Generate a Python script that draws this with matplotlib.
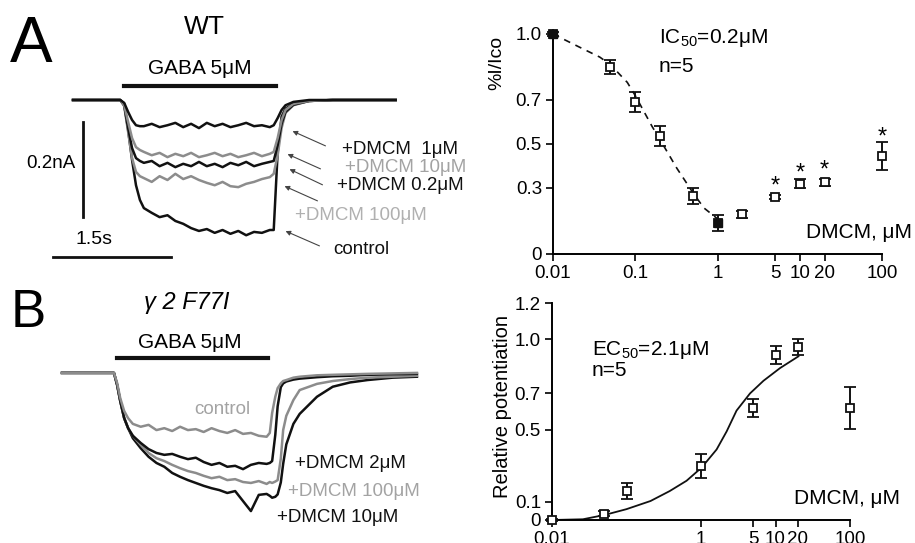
import numpy as np
import matplotlib
matplotlib.use("Agg")
import matplotlib.pyplot as plt

plt.rcParams["font.family"] = ["Liberation Sans", "DejaVu Sans"]
plt.rcParams["mathtext.fontset"] = "custom"
plt.rcParams["mathtext.rm"] = "Liberation Sans"
plt.rcParams["mathtext.it"] = "Liberation Sans:italic"

W, H = 915, 543
BLACK = "#111111"
GREY = "#8c8c8c"
GREY_TXT = "#a3a3a3"

# ---- panel A traces (time in s, current in pA) ----
tA = [0, 0.6, 0.65, 0.7, 0.75, 0.8, 0.85, 0.9, 1.0, 1.1, 1.2, 1.3, 1.4, 1.5, 1.6, 1.7,
      1.8, 1.9, 2.0, 2.1, 2.2, 2.3, 2.4, 2.5, 2.55, 2.6, 2.65, 2.7, 2.8, 3.0, 3.3, 4.1]
iA_control = [0, 0, -8, -63, -126, -179, -210, -227, -237, -246, -242, -254, -260, -269, -275, -271,
              -279, -273, -281, -275, -284, -277, -279, -273, -273, -110, -35, -18, -8, -2, 0, 0]
iA_1uM = [0, 0, -6, -25, -42, -53, -55, -55, -50, -57, -53, -48, -57, -50, -59, -48,
          -55, -50, -57, -53, -48, -55, -53, -57, -53, -38, -21, -11, -4, 0, 0, 0]
iA_10uM = [0, 0, -11, -46, -80, -99, -105, -109, -116, -111, -120, -113, -118, -111, -120, -116,
           -111, -118, -113, -120, -116, -111, -118, -113, -109, -80, -42, -21, -8, -2, 0, 0]
iA_02uM = [0, 0, -11, -59, -101, -122, -128, -132, -128, -139, -132, -141, -134, -139, -130, -139,
           -134, -141, -132, -137, -130, -139, -134, -130, -128, -95, -50, -25, -10, -2, 0, 0]
iA_100uM = [0, 0, -13, -67, -122, -151, -160, -164, -172, -160, -168, -155, -166, -160, -168, -174,
            -179, -172, -181, -183, -176, -172, -166, -162, -155, -116, -59, -27, -11, -2, 0, 0]
gabaA = [0.65, 2.58]
scale_t = 1.5    # s
scale_i = 200    # pA

# ---- panel B traces ----
tB = [0, 0.66, 0.70, 0.74, 0.79, 0.84, 0.90, 1.0, 1.1, 1.2, 1.3, 1.4, 1.5, 1.6, 1.7, 1.8, 1.9,
      2.0, 2.1, 2.2, 2.3, 2.4, 2.5, 2.6, 2.64, 2.67, 2.71, 2.74, 2.78, 2.81, 2.85, 2.94, 3.02,
      3.24, 3.44, 3.66, 3.88, 4.2, 4.51]
iB_control = [0, 0, -21, -53, -80, -95, -107, -113, -109, -120, -116, -122, -113, -120, -118, -124, -116,
              -122, -126, -120, -128, -126, -132, -134, -126, -84, -50, -32, -22, -17, -15, -10, -8,
              -5, -4, -3, -2, -1, 0]
iB_2uM = [0, 0, -25, -59, -95, -116, -132, -147, -160, -168, -172, -170, -176, -181, -178, -187, -193,
          -189, -197, -195, -202, -193, -189, -191, -189, -185, -130, -70, -30, -22, -18, -14, -12,
          -9, -7, -6, -4, -3, -2]
iB_100uM = [0, 0, -25, -59, -95, -116, -132, -151, -168, -179, -185, -193, -200, -206, -210, -216, -221,
            -218, -225, -223, -229, -231, -227, -233, -229, -231, -228, -225, -180, -120, -90, -57, -36,
            -23, -17, -13, -10, -8, -6]
iB_10uM = [0, 0, -25, -59, -95, -116, -137, -158, -176, -189, -197, -210, -218, -225, -231, -237, -242,
           -246, -252, -248, -269, -290, -256, -254, -258, -262, -260, -255, -230, -191, -150, -107, -86,
           -50, -29, -20, -15, -10, -8]
gabaB = [0.70, 2.62]

# ---- WT dose response ----
wt_conc = [0.01, 0.05, 0.1, 0.2, 0.5, 1, 2, 5, 10, 20, 100]
wt_resp = [1.0, 0.85, 0.69, 0.535, 0.265, 0.14, 0.18, 0.26, 0.32, 0.325, 0.445]
wt_err = [0.01, 0.03, 0.045, 0.045, 0.037, 0.035, 0.015, 0.01, 0.02, 0.015, 0.062]
wt_filled = [0, 5]
star_conc = [5, 10, 20, 100]
star_y = [0.34, 0.395, 0.41, 0.56]
wt_fit_x = [0.01, 0.021, 0.037, 0.05, 0.08, 0.1, 0.16, 0.2, 0.32, 0.5, 0.68, 1.0]
wt_fit_y = [1.0, 0.94, 0.895, 0.86, 0.78, 0.72, 0.58, 0.52, 0.39, 0.28, 0.21, 0.16]

# ---- gamma2 F77I dose response ----
mut_conc = [0.01, 0.05, 0.1, 1, 5, 10, 20, 100]
mut_resp = [0.0, 0.035, 0.16, 0.30, 0.62, 0.91, 0.957, 0.62]
mut_err = [0.005, 0.015, 0.045, 0.065, 0.05, 0.05, 0.045, 0.115]
mut_fit_x = [0.01, 0.026, 0.051, 0.1, 0.21, 0.38, 0.64, 1.02, 1.62, 2.21, 3.0, 4.55, 6.9, 11.5, 20.3]
mut_fit_y = [0.0, 0.004, 0.028, 0.06, 0.105, 0.16, 0.217, 0.29, 0.39, 0.49, 0.605, 0.70, 0.77, 0.84, 0.905]


def box(x0, y0, x1, y1):
    # pixel box (top-left origin) -> figure fraction rect
    return [x0 / W, 1 - y1 / H, (x1 - x0) / W, (y1 - y0) / H]


def ftext(x, y, s, **kw):
    kw.setdefault("ha", "left")
    kw.setdefault("va", "center")
    fig.text(x / W, 1 - y / H, s, **kw)


def farrow(x0, y0, x1, y1):
    fig.add_artist(matplotlib.patches.FancyArrowPatch(
        (x0 / W, 1 - y0 / H), (x1 / W, 1 - y1 / H), transform=fig.transFigure,
        arrowstyle="-|>", mutation_scale=7, lw=0.8, color="#444444"))


fig = plt.figure(figsize=(W / 100, H / 100), dpi=100)

# ---------------- A traces ----------------
axA = fig.add_axes(box(0, 0, 460, 280))
axA.set_xlim(-0.928, 4.917)
axA.set_ylim(-378, 210)
axA.axis("off")
axA.plot(tA, iA_control, color=BLACK, lw=1.8)
axA.plot(tA, iA_100uM, color=GREY, lw=1.8)
axA.plot(tA, iA_02uM, color=BLACK, lw=1.8)
axA.plot(tA, iA_10uM, color=GREY, lw=1.8)
axA.plot(tA, iA_1uM, color=BLACK, lw=1.8)
axA.plot(gabaA, [29, 29], color=BLACK, lw=3)
axA.plot([-0.254, -0.254 + scale_t], [-330, -330], color=BLACK, lw=2)
axA.plot([0.127, 0.127], [-246, -246 + scale_i], color=BLACK, lw=2)

ftext(31, 45, "A", ha="center", fontsize=46)
ftext(204, 27, "WT", ha="center", fontsize=19)
ftext(200, 68, "GABA 5μM", ha="center", fontsize=15)
ftext(51, 163, "0.2nA", ha="center", fontsize=13.5)
ftext(94, 240, "1.5s", ha="center", fontsize=14)

ftext(342, 150, "+DMCM  1μM", fontsize=13.5, color=BLACK)
ftext(345, 168, "+DMCM 10μM", fontsize=13.5, color=GREY_TXT)
ftext(337, 185, "+DMCM 0.2μM", fontsize=13.5, color=BLACK)
ftext(295, 216, "+DMCM 100μM", fontsize=13.5, color="#b0b0b0")
ftext(333, 249, "control", fontsize=13.5, color=BLACK)
farrow(328, 147, 290, 130)
farrow(323, 170, 285, 153)
farrow(325, 186, 287, 168)
farrow(320, 202, 282, 185)
farrow(322, 247, 283, 230)

# ---------------- B traces ----------------
axB = fig.add_axes(box(0, 280, 460, 543))
axB.set_xlim(-0.788, 5.057)
axB.set_ylim(-357, 195)
axB.axis("off")
axB.plot(tB, iB_10uM, color=BLACK, lw=1.8)
axB.plot(tB, iB_100uM, color=GREY, lw=1.8)
axB.plot(tB, iB_2uM, color=BLACK, lw=1.8)
axB.plot(tB, iB_control, color=GREY, lw=1.8)
axB.plot(gabaB, [31.5, 31.5], color=BLACK, lw=3)

ftext(28, 313, "B", ha="center", fontsize=38)
ftext(187, 302, "γ 2 F77I", ha="center", fontsize=17, style="italic")
ftext(190, 342, "GABA 5μM", ha="center", fontsize=15)
ftext(222, 410, "control", ha="center", fontsize=13.5, color=GREY_TXT)
ftext(295, 463, "+DMCM 2μM", fontsize=13.5, color=BLACK)
ftext(288, 491, "+DMCM 100μM", fontsize=13.5, color=GREY_TXT)
ftext(277, 518, "+DMCM 10μM", fontsize=13.5, color=BLACK)


def style_axis(ax):
    for s in ["top", "right"]:
        ax.spines[s].set_visible(False)
    for s in ["left", "bottom"]:
        ax.spines[s].set_linewidth(1.4)
    ax.set_xscale("log")
    ax.minorticks_off()
    ax.tick_params(labelsize=13.5, length=5, width=1.2, pad=3)


# ---------------- WT dose-response ----------------
ax1 = fig.add_axes(box(553, 30, 882, 254))
style_axis(ax1)
ax1.set_xlim(0.01, 100)
ax1.set_ylim(0, 1.018)
ax1.plot(wt_fit_x, wt_fit_y, color=BLACK, lw=1.2, ls=(0, (4, 3.5)))
ax1.errorbar(wt_conc, wt_resp, yerr=wt_err, fmt="s", ms=6, mfc="white", mec=BLACK, mew=1.3,
             ecolor=BLACK, elinewidth=1.4, capsize=4, capthick=1.4, clip_on=False, zorder=3)
ax1.plot([wt_conc[i] for i in wt_filled], [wt_resp[i] for i in wt_filled], "s", ms=6,
         color=BLACK, clip_on=False, zorder=4)
for c, y in zip(star_conc, star_y):
    ax1.annotate("*", (c, y), xytext=(0, -5), textcoords="offset points",
                 ha="center", va="center", fontsize=17)
ax1.set_xticks([0.01, 0.1, 1, 5, 10, 20, 100])
ax1.set_xticklabels(["0.01", "0.1", "1", "5", "10", "20", "100"])
ax1.set_yticks([0, 0.3, 0.5, 0.7, 1.0])
ax1.set_yticklabels(["0", "0.3", "0.5", "0.7", "1.0"])
ftext(497, 63, "%I/Ico", ha="center", rotation=90, fontsize=14)
ftext(659, 38, "IC$_{50}$=0.2μM", fontsize=15)
ftext(659, 67, "n=5", fontsize=15)
ftext(912, 232, "DMCM, μM", ha="right", fontsize=15)

# ---------------- gamma2 F77I dose-response ----------------
ax2 = fig.add_axes(box(552, 303, 850, 520))
style_axis(ax2)
ax2.set_xlim(0.01, 100)
ax2.set_ylim(0, 1.2)
ax2.plot(mut_fit_x, mut_fit_y, color=BLACK, lw=1.3)
ax2.errorbar(mut_conc, mut_resp, yerr=mut_err, fmt="s", ms=6, mfc="white", mec=BLACK, mew=1.3,
             ecolor=BLACK, elinewidth=1.4, capsize=4, capthick=1.4, clip_on=False, zorder=3)
ax2.set_xticks([0.01, 1, 5, 10, 20, 100])
ax2.set_xticklabels(["0.01", "1", "5", "10", "20", "100"])
ax2.set_yticks([0, 0.1, 0.5, 0.7, 1.0, 1.2])
ax2.set_yticklabels(["0", "0.1", "0.5", "0.7", "1.0", "1.2"])
ftext(502, 407, "Relative potentiation", ha="center", rotation=90, fontsize=14.5)
ftext(592, 350, "EC$_{50}$=2.1μM", fontsize=15)
ftext(592, 371, "n=5", fontsize=15)
ftext(900, 498, "DMCM, μM", ha="right", fontsize=15)

fig.savefig("out.png", dpi=100)
